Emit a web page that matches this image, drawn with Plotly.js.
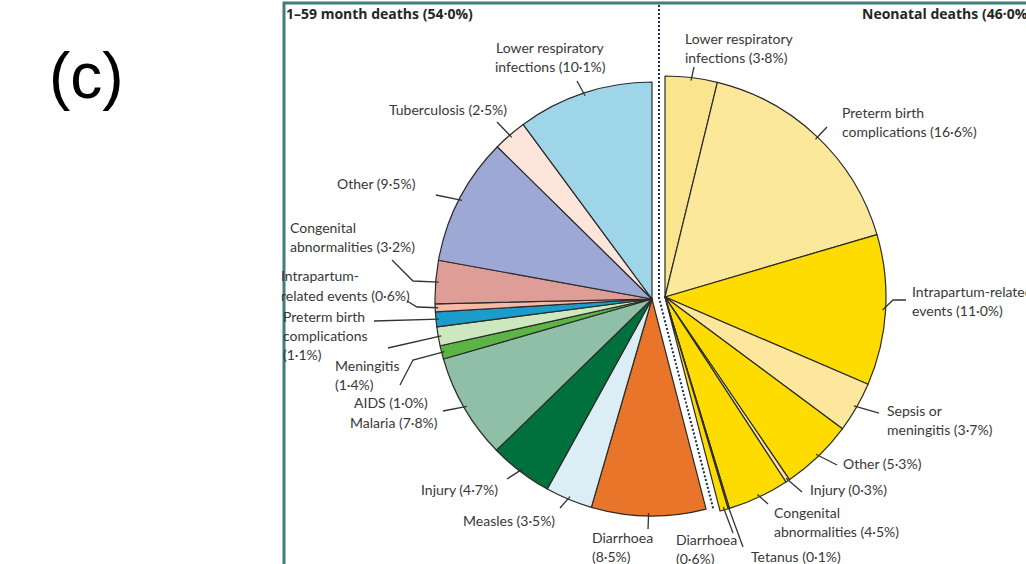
<!DOCTYPE html>
<html><head><meta charset="utf-8">
<script src="https://cdn.plot.ly/plotly-3.0.1.min.js"></script>
<style>html,body{margin:0;padding:0;background:#fff}#chart{width:1026px;height:564px}</style>
</head><body><div id="chart"></div>
<script>
// ---------- DATA ----------
const groupNames = ["1–59 month deaths", "Neonatal deaths"];
const groupTotals = [54.0, 46.0];

// neonatal slices, clockwise from 12 o'clock
const neonatalCauses = ["Lower respiratory infections", "Preterm birth complications", "Intrapartum-related events",
  "Sepsis or meningitis", "Other", "Injury", "Congenital abnormalities", "Tetanus", "Diarrhoea"];
const neonatalValues = [3.8, 16.6, 11.0, 3.7, 5.3, 0.3, 4.5, 0.1, 0.6];
const neonatalColors = ["#FBE48E", "#FCE89B", "#FFDC00", "#FCE79C", "#FFDC00", "#FCE79C", "#FFDC00", "#FCE9A6", "#FFDC00"];

// 1-59 month slices, clockwise continuing after the neonatal ones
const childCauses = ["Diarrhoea", "Measles", "Injury", "Malaria", "AIDS", "Meningitis", "Preterm birth complications",
  "Intrapartum-related events", "Congenital abnormalities", "Other", "Tuberculosis", "Lower respiratory infections"];
const childValues = [8.5, 3.5, 4.7, 7.8, 1.0, 1.4, 1.1, 0.6, 3.2, 9.5, 2.5, 10.1];
const childColors = ["#E8752A", "#DCEEF5", "#00703C", "#8FBFA6", "#5DB446", "#CDE7BF", "#1B9CCB", "#F6BAA6",
  "#DE9D97", "#9DA8D4", "#FDE5DC", "#9ED5E8"];

// ---------- LAYOUT HELPERS ----------
const W = 1026, H = 564;
const px = x => x / W, py = y => 1 - y / H;
const LEFT = {cx: 652, cy: 299, r: 217};
const RIGHT = {cx: 665, cy: 297, r: 221};
const sum = a => a.reduce((s, v) => s + v, 0);
const neoSum = sum(neonatalValues), childSum = sum(childValues), total = neoSum + childSum;
const fmt = v => v.toFixed(1).replace('.', '·') + '%';

function midAngle(offset, values, i) {
  const before = offset + sum(values.slice(0, i));
  return (before + values[i] / 2) / total * 360;
}
function pt(g, deg, rad) {
  const t = deg * Math.PI / 180;
  return [g.cx + rad * Math.sin(t), g.cy - rad * Math.cos(t)];
}
function domainFor(g) {
  return {x: [px(g.cx - g.r), px(g.cx + g.r)], y: [(H - g.cy - g.r) / H, (H - g.cy + g.r) / H]};
}

const lineCol = '#2b2b2b';
const traces = [
  {
    type: 'pie', sort: false, direction: 'clockwise', rotation: 0,
    values: neonatalValues.concat([childSum]),
    labels: neonatalCauses.map(c => 'Neonatal: ' + c).concat(['rest-n']),
    marker: {colors: neonatalColors.concat(['rgba(0,0,0,0)']),
      line: {color: neonatalValues.map(() => lineCol).concat(['rgba(0,0,0,0)']), width: neonatalValues.map(() => 1.2).concat([0])}},
    textinfo: 'none', hoverinfo: 'skip', showlegend: false, domain: domainFor(RIGHT)
  },
  {
    type: 'pie', sort: false, direction: 'clockwise', rotation: 0,
    values: [neoSum].concat(childValues),
    labels: ['rest-c'].concat(childCauses.map(c => 'Child: ' + c)),
    marker: {colors: ['rgba(0,0,0,0)'].concat(childColors),
      line: {color: ['rgba(0,0,0,0)'].concat(childValues.map(() => lineCol)), width: [0].concat(childValues.map(() => 1.2))}},
    textinfo: 'none', hoverinfo: 'skip', showlegend: false, domain: domainFor(LEFT)
  }
];

// label placement (pixel positions of first line centre, anchor, leader outer point, optional bend)
const neoLabels = [
  {i: 0, lines: ["Lower respiratory", "infections ({v})"], x: 683, y: 38, a: 'left', lead: [694, 67]},
  {i: 1, lines: ["Preterm birth", "complications ({v})"], x: 840, y: 112, a: 'left', lead: [827, 127]},
  {i: 2, lines: ["Intrapartum-related", "events ({v})"], x: 910, y: 291, a: 'left', lead: [906, 300], via: [893, 300]},
  {i: 3, lines: ["Sepsis or", "meningitis ({v})"], x: 885, y: 410, a: 'left', lead: [879, 413]},
  {i: 4, lines: ["Other ({v})"], x: 841, y: 463, a: 'left', lead: [837, 465]},
  {i: 5, lines: ["Injury ({v})"], x: 808, y: 489, a: 'left', lead: [802, 492]},
  {i: 6, lines: ["Congenital", "abnormalities ({v})"], x: 772, y: 512, a: 'left', lead: [768, 504]},
  {i: 7, lines: ["Tetanus ({v})"], x: 749, y: 556, a: 'left', lead: [743, 547]},
  {i: 8, lines: ["Diarrhoea", "({v})"], x: 674, y: 539, a: 'left', lead: [733, 533]}
];
const childLabels = [
  {i: 11, lines: ["Lower respiratory", "infections ({v})"], x: 550, y: 47, a: 'center', lead: [577, 81]},
  {i: 10, lines: ["Tuberculosis ({v})"], x: 509, y: 109, a: 'right', lead: [497, 122]},
  {i: 9, lines: ["Other ({v})"], x: 418, y: 183, a: 'right', lead: [436, 195]},
  {i: 8, lines: ["Congenital", "abnormalities ({v})"], x: 288, y: 227, a: 'left', lead: [392, 260], via: [413, 281]},
  {i: 7, lines: ["Intrapartum-", "related events ({v})"], x: 279, y: 276, a: 'left', lead: [407, 301], via: [417, 307]},
  {i: 6, lines: ["Preterm birth", "complications", "({v})"], x: 281, y: 316, a: 'left', lead: [374, 321]},
  {i: 5, lines: ["Meningitis", "({v})"], x: 333, y: 365, a: 'left', lead: [388, 348]},
  {i: 4, lines: ["AIDS ({v})"], x: 430, y: 403, a: 'right', lead: [400, 385], via: [413, 360]},
  {i: 3, lines: ["Malaria ({v})"], x: 440, y: 422, a: 'right', lead: [443, 411]},
  {i: 2, lines: ["Injury ({v})"], x: 500, y: 489, a: 'right', lead: [507, 479]},
  {i: 1, lines: ["Measles ({v})"], x: 557, y: 520, a: 'right', lead: [560, 508]},
  {i: 0, lines: ["Diarrhoea", "({v})"], x: 590, y: 537, a: 'left', lead: [648, 529]}
];

const font = {family: 'Lato, "Open Sans", sans-serif', size: 14, color: '#383838'};
const LH = 19.3;
const annotations = [], shapes = [];

function addLabels(list, values, offset, g) {
  list.forEach(L => {
    L.lines.forEach((ln, k) => {
      annotations.push({
        xref: 'paper', yref: 'paper', x: px(L.x), y: py(L.y + k * LH), xanchor: L.a, yanchor: 'middle',
        text: ln.replace('{v}', fmt(values[L.i])), showarrow: false, font: font
      });
    });
    const inner = pt(g, midAngle(offset, values, L.i), g.r - 3);
    const pts = [L.lead].concat(L.via ? [L.via] : []).concat([inner]);
    const d = pts.map((p, k) => (k ? 'L' : 'M') + px(p[0]).toFixed(5) + ',' + py(p[1]).toFixed(5)).join(' ');
    shapes.push({type: 'path', xref: 'paper', yref: 'paper', path: d, line: {color: '#333', width: 1.3}});
  });
}
addLabels(neoLabels, neonatalValues, 0, RIGHT);
addLabels(childLabels, childValues, neoSum, LEFT);

// group titles
const titleFont = {family: '"Open Sans", Lato, sans-serif', size: 14, color: '#262626'};
annotations.push({xref: 'paper', yref: 'paper', x: px(284), y: py(13), xanchor: 'left', yanchor: 'middle', showarrow: false,
  text: '<b>' + groupNames[0] + ' (' + fmt(groupTotals[0]) + ')</b>', font: titleFont});
annotations.push({xref: 'paper', yref: 'paper', x: px(860), y: py(13), xanchor: 'left', yanchor: 'middle', showarrow: false,
  text: '<b>' + groupNames[1] + ' (' + fmt(groupTotals[1]) + ')</b>', font: titleFont});
// panel letter
annotations.push({xref: 'paper', yref: 'paper', x: px(86), y: py(76), xanchor: 'center', yanchor: 'middle', showarrow: false,
  text: '(c)', font: {family: '"Liberation Sans", Arial, sans-serif', size: 64, color: '#000'}});

// divider between the two groups (dotted): vertical, then along the boundary angle
const bAng = neoSum / total * 360;
const divX = (LEFT.cx + RIGHT.cx) / 2 + 0.5, divY = (LEFT.cy + RIGHT.cy) / 2;
const divEnd = pt({cx: divX, cy: divY}, bAng, RIGHT.r - 2);
shapes.push({type: 'path', xref: 'paper', yref: 'paper',
  path: 'M' + px(divX) + ',' + py(5) + ' L' + px(divX) + ',' + py(divY) + ' L' + px(divEnd[0]) + ',' + py(divEnd[1]),
  line: {color: '#1f2f55', width: 2, dash: '2px,2px'}});
// panel frame
shapes.push({type: 'path', xref: 'paper', yref: 'paper',
  path: 'M' + px(284) + ',' + py(600) + ' L' + px(284) + ',' + py(3) + ' L' + px(1100) + ',' + py(3),
  line: {color: '#427D7D', width: 3}});

Plotly.newPlot('chart', traces, {
  width: W, height: H, margin: {l: 0, r: 0, t: 0, b: 0},
  paper_bgcolor: '#fff', plot_bgcolor: '#fff', showlegend: false,
  annotations: annotations, shapes: shapes
}, {staticPlot: true});
</script>
</body></html>
